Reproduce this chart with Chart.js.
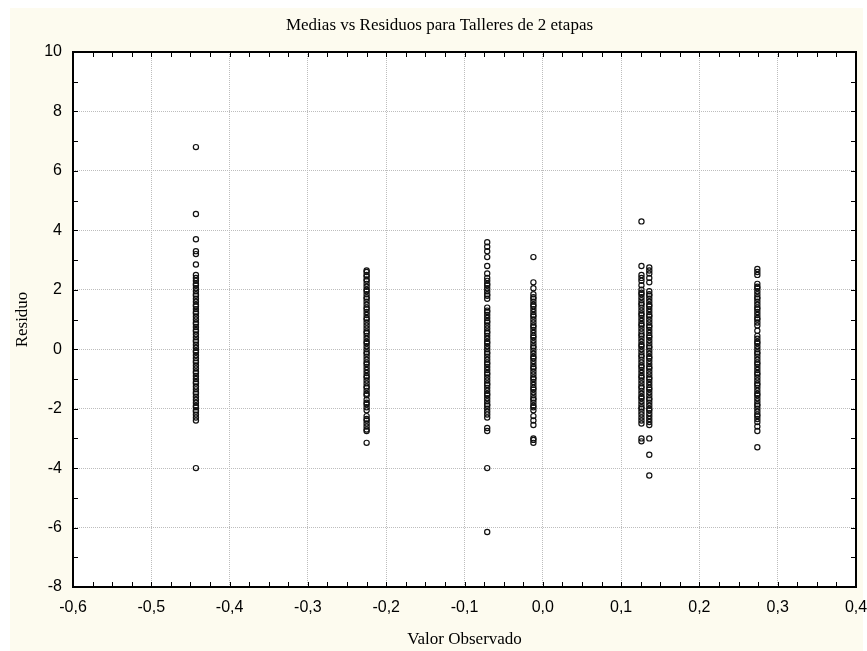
<!DOCTYPE html>
<html>
<head>
<meta charset="utf-8">
<title>Medias vs Residuos</title>
<script src="https://cdn.jsdelivr.net/npm/chart.js"></script>
<style>
  html, body { margin: 0; padding: 0; background: #ffffff; }
  canvas { display: block; }
</style>
</head>
<body>
<canvas id="chartResiduos" width="867" height="651"></canvas>
<script>
// media observada de cada taller (posicion en x)
var medias = [-0.443, -0.225, -0.071, -0.012, 0.126, 0.136, 0.274];

// residuos leidos para cada taller
var resTaller1 = [6.8, 4.55, 3.7, 3.3, 3.2, 2.85, 2.5, 2.4, 2.3, 2.2, 2.15, 2.05, 1.95, 1.85, 1.8, 1.7, 1.6, 1.5, 1.45, 1.35, 1.25, 1.2, 1.1, 1.0, 0.9, 0.85, 0.75, 0.65, 0.6, 0.5, 0.4, 0.3, 0.25, 0.15, 0.05, -0.05, -0.1, -0.2, -0.3, -0.4, -0.45, -0.55, -0.65, -0.75, -0.8, -0.9, -1.0, -1.1, -1.15, -1.25, -1.35, -1.45, -1.5, -1.6, -1.7, -1.8, -1.9, -1.95, -2.05, -2.1, -2.2, -2.3, -2.4, -4.0];
var resTaller2 = [2.65, 2.6, 2.5, 2.45, 2.35, 2.3, 2.2, 2.1, 2.0, 1.95, 1.85, 1.75, 1.7, 1.6, 1.5, 1.4, 1.35, 1.25, 1.15, 1.05, 1.0, 0.9, 0.8, 0.7, 0.6, 0.55, 0.45, 0.35, 0.25, 0.2, 0.1, 0.0, -0.1, -0.15, -0.25, -0.35, -0.45, -0.5, -0.6, -0.7, -0.8, -0.9, -0.95, -1.05, -1.15, -1.25, -1.3, -1.4, -1.5, -1.55, -1.7, -1.8, -1.85, -1.95, -2.05, -2.25, -2.35, -2.4, -2.5, -2.6, -2.7, -2.75, -3.15];
var resTaller3 = [3.6, 3.45, 3.3, 3.1, 2.8, 2.55, 2.4, 2.3, 2.2, 2.15, 2.05, 1.95, 1.85, 1.8, 1.7, 1.4, 1.3, 1.25, 1.15, 1.05, 0.95, 0.9, 0.8, 0.7, 0.6, 0.55, 0.45, 0.35, 0.25, 0.2, 0.1, 0.0, -0.1, -0.15, -0.25, -0.35, -0.45, -0.5, -0.6, -0.7, -0.8, -0.85, -0.95, -1.05, -1.15, -1.2, -1.3, -1.4, -1.5, -1.55, -1.65, -1.75, -1.85, -1.9, -2.0, -2.1, -2.2, -2.3, -2.65, -2.75, -4.0, -6.15];
var resTaller4 = [3.1, 2.25, 2.05, 1.85, 1.75, 1.7, 1.6, 1.5, 1.45, 1.35, 1.25, 1.15, 1.1, 1.0, 0.9, 0.8, 0.75, 0.65, 0.55, 0.45, 0.4, 0.3, 0.2, 0.1, 0.05, -0.05, -0.15, -0.25, -0.3, -0.4, -0.5, -0.6, -0.65, -0.75, -0.85, -0.95, -1.0, -1.1, -1.2, -1.3, -1.35, -1.45, -1.55, -1.65, -1.7, -1.8, -1.9, -1.95, -2.05, -2.25, -2.4, -2.55, -3.0, -3.05, -3.15];
var resTaller5 = [4.3, 2.8, 2.5, 2.4, 2.3, 2.15, 2.0, 1.9, 1.85, 1.75, 1.65, 1.55, 1.5, 1.4, 1.3, 1.2, 1.15, 1.05, 0.95, 0.85, 0.8, 0.7, 0.6, 0.5, 0.45, 0.35, 0.25, 0.15, 0.1, 0.0, -0.1, -0.2, -0.25, -0.35, -0.45, -0.55, -0.6, -0.7, -0.8, -0.9, -0.95, -1.05, -1.15, -1.25, -1.3, -1.4, -1.5, -1.6, -1.65, -1.75, -1.85, -1.95, -2.0, -2.1, -2.2, -2.3, -2.4, -2.5, -3.0, -3.1];
var resTaller6 = [2.75, 2.65, 2.55, 2.4, 2.25, 1.95, 1.85, 1.8, 1.7, 1.6, 1.5, 1.45, 1.35, 1.25, 1.15, 1.1, 1.0, 0.9, 0.8, 0.75, 0.65, 0.55, 0.45, 0.4, 0.3, 0.2, 0.1, 0.05, -0.05, -0.15, -0.25, -0.3, -0.4, -0.5, -0.6, -0.65, -0.75, -0.85, -0.95, -1.0, -1.1, -1.2, -1.3, -1.35, -1.45, -1.55, -1.65, -1.7, -1.8, -1.9, -2.0, -2.05, -2.15, -2.25, -2.35, -2.45, -2.55, -3.0, -3.55, -4.25];
var resTaller7 = [2.7, 2.6, 2.5, 2.2, 2.1, 2.05, 1.95, 1.85, 1.75, 1.7, 1.6, 1.5, 1.4, 1.35, 1.25, 1.15, 1.05, 1.0, 0.9, 0.8, 0.62, 0.45, 0.35, 0.25, 0.2, 0.1, 0.0, -0.1, -0.15, -0.25, -0.35, -0.45, -0.5, -0.6, -0.7, -0.8, -0.85, -0.95, -1.05, -1.15, -1.2, -1.3, -1.4, -1.5, -1.55, -1.65, -1.75, -1.85, -1.9, -2.0, -2.1, -2.2, -2.25, -2.35, -2.45, -2.6, -2.75, -3.3];

var xTickValues = [-0.6, -0.5, -0.4, -0.3, -0.2, -0.1, 0.0, 0.1, 0.2, 0.3, 0.4];
var xTickLabels = ['-0,6', '-0,5', '-0,4', '-0,3', '-0,2', '-0,1', '0,0', '0,1', '0,2', '0,3', '0,4'];
var yTickValues = [-8, -6, -4, -2, 0, 2, 4, 6, 8, 10];
var yTickLabels = ['-8', '-6', '-4', '-2', '0', '2', '4', '6', '8', '10'];

var residuos = [resTaller1, resTaller2, resTaller3, resTaller4, resTaller5, resTaller6, resTaller7];

function scatterChart(canvasId) {
   var ctx = document.getElementById(canvasId);

   var datasets = residuos.map(function(lista, i) {
      return {
         label: 'Taller ' + (i + 1),
         data: lista.map(function(r) { return { x: medias[i], y: r }; }),
         pointRadius: 2.6,
         pointBorderWidth: 1.2,
         pointBorderColor: '#111',
         pointBackgroundColor: 'rgba(255,255,255,0)',
         showLine: false
      };
   });

   // fondo crema, area blanca, marco y marcas interiores
   var marco = {
      id: 'marco',
      beforeDraw: function(chart) {
         var c = chart.ctx;
         var a = chart.chartArea;
         c.save();
         c.fillStyle = '#FDFBEF';
         c.fillRect(10, 8, chart.width - 14, chart.height - 8);
         c.fillStyle = '#FFFFFF';
         c.fillRect(a.left, a.top, a.right - a.left, a.bottom - a.top);
         c.restore();
      },
      afterDraw: function(chart) {
         var c = chart.ctx;
         var a = chart.chartArea;
         var xs = chart.scales.x;
         var ys = chart.scales.y;
         var len = 5;
         c.save();
         c.strokeStyle = '#000';
         c.lineWidth = 1;
         c.beginPath();
         for (var i = 0; i <= 40; i++) {
            var px = Math.round(xs.getPixelForValue(xs.min + i * 0.025)) + 0.5;
            c.moveTo(px, a.bottom);
            c.lineTo(px, a.bottom - len);
            c.moveTo(px, a.top);
            c.lineTo(px, a.top + len);
         }
         for (var j = 0; j <= 18; j++) {
            var py = Math.round(ys.getPixelForValue(ys.min + j)) + 0.5;
            c.moveTo(a.left, py);
            c.lineTo(a.left + len, py);
            c.moveTo(a.right, py);
            c.lineTo(a.right - len, py);
         }
         c.stroke();
         c.lineWidth = 2;
         c.strokeRect(a.left, a.top, a.right - a.left, a.bottom - a.top);
         c.restore();
      }
   };

   var serif = '"Liberation Serif", "Times New Roman", serif';
   var sans = '"Liberation Sans", Arial, sans-serif';

   var config = {
      type: 'scatter',
      data: { datasets: datasets },
      plugins: [marco],
      options: {
         responsive: false,
         devicePixelRatio: 1,
         animation: false,
         events: [],
         layout: {
            padding: { top: 8, right: 0, bottom: 0, left: 12 }
         },
         plugins: {
            legend: { display: false },
            tooltip: { enabled: false },
            title: {
               display: true,
               text: 'Medias vs Residuos para Talleres de 2 etapas',
               color: '#000',
               font: { family: serif, size: 17, weight: 'normal' },
               padding: { top: 7.4, bottom: 16.2 }
            }
         },
         scales: {
            x: {
               type: 'linear',
               min: -0.6,
               max: 0.4,
               afterBuildTicks: function(scale) {
                  scale.ticks = xTickValues.map(function(v) { return { value: v }; });
               },
               afterFit: function(scale) {
                  scale.height = 64;
                  scale.paddingLeft = 0;
                  scale.paddingRight = 11;
               },
               grid: {
                  color: '#BDBDBD',
                  lineWidth: 1,
                  drawTicks: false
               },
               border: { display: false, dash: [1, 1] },
               ticks: {
                  color: '#000',
                  padding: 11,
                  maxRotation: 0,
                  autoSkip: false,
                  font: { family: sans, size: 16 },
                  callback: function(value, index) { return xTickLabels[index]; }
               },
               title: {
                  display: true,
                  text: 'Valor Observado',
                  color: '#000',
                  font: { family: serif, size: 17 },
                  padding: { top: 0, bottom: 0.8 }
               }
            },
            y: {
               type: 'linear',
               min: -8,
               max: 10,
               afterBuildTicks: function(scale) {
                  scale.ticks = yTickValues.map(function(v) { return { value: v }; });
               },
               afterFit: function(scale) { scale.width = 61; },
               grid: {
                  color: '#BDBDBD',
                  lineWidth: 1,
                  drawTicks: false
               },
               border: { display: false, dash: [1, 1] },
               ticks: {
                  color: '#000',
                  padding: 11,
                  autoSkip: false,
                  font: { family: sans, size: 16 },
                  callback: function(value, index) { return yTickLabels[index]; }
               },
               title: {
                  display: true,
                  text: 'Residuo',
                  color: '#000',
                  font: { family: serif, size: 17 },
                  padding: { top: 0, bottom: 0 }
               }
            }
         }
      }
   };

   new Chart(ctx, config);
}

scatterChart('chartResiduos');
</script>
</body>
</html>
